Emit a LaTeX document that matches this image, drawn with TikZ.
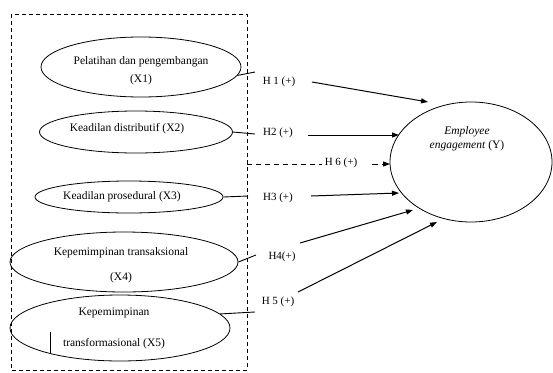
\documentclass[tikz,border=0pt]{standalone}
\usepackage{fontspec}
\setmainfont{Liberation Serif}
\usetikzlibrary{shapes.geometric,arrows.meta}
\begin{document}
\begin{tikzpicture}[x=1pt,y=-1pt,
  ell/.style={draw,ellipse,line width=0.8pt,inner sep=0pt},
  lbl/.style={font=\fontsize{11.5}{13.5}\selectfont,align=center,inner sep=0pt},
  hlbl/.style={font=\fontsize{11}{12}\selectfont,inner sep=0pt},
  stub/.style={line width=0.9pt},
  arr/.style={line width=1pt,-{Triangle[length=7pt,width=5pt]}},
  frame/.style={line width=0.8pt,dash pattern=on 4pt off 3pt}]
\useasboundingbox (0,0) rectangle (553,372);
% dashed frame
\coordinate (fa) at (11,14);
\coordinate (fb) at (247,370);
\draw[frame] (fa) rectangle (fb);
% exogenous ellipses
\node[ell,minimum width=200,minimum height=60] (x1) at (141,67) {};
\node[lbl] (t1) at (141,71) {Pelatihan dan pengembangan\\[4.5pt](X1)};
\node[ell,minimum width=193,minimum height=42] (x2) at (136,132) {};
\node[lbl] (t2) at (127,129) {Keadilan distributif (X2)};
\node[ell,minimum width=188,minimum height=32] (x3) at (129,197) {};
\node[lbl] (t3) at (122,197) {Keadilan prosedural (X3)};
\node[ell,minimum width=228,minimum height=60] (x4) at (124,262) {};
\node[lbl] (t4) at (121,265.5) {Kepemimpinan transaksional\\[11.5pt](X4)};
\node[ell,minimum width=220,minimum height=66] (x5) at (120,328) {};
\node[lbl] (t5) at (114,328.5) {Kepemimpinan\\[17.5pt]transformasional (X5)};
% small artifact line
\coordinate (va) at (50,332);
\coordinate (vb) at (50,353);
\draw[line width=0.6pt] (va) -- (vb);
% endogenous ellipse
\node[ell,minimum width=162,minimum height=120] (y) at (471,162) {};
\node[lbl] (ty) at (467,138.5) {\textit{Employee}\\\textit{engagement} (Y)};
% stubs from ellipses
\coordinate (s1) at (255,72);
\coordinate (s2) at (255,134);
\coordinate (s3) at (248,196);
\coordinate (s4) at (256,255);
\coordinate (s5) at (255,312);
\draw[stub] (x1.-5) -- (s1);
\draw[stub] (x2.east) -- (s2);
\draw[stub] (x3.east) -- (s3);
\draw[stub] (x4.east) -- (s4);
\draw[stub] (x5.8) -- (s5);
% labels
\node[hlbl] (h1) at (279,82) {H 1 (+)};
\node[hlbl] (h2) at (278,133) {H2 (+)};
\node[hlbl] (h6) at (341,163) {H 6 (+)};
\node[hlbl] (h3) at (278,198) {H3 (+)};
\node[hlbl] (h4) at (282,257) {H4(+)};
\node[hlbl] (h5) at (278,302) {H 5 (+)};
% arrows
\coordinate (a1s) at (312,82);  \coordinate (a1e) at (428,102);
\coordinate (a2s) at (308,135); \coordinate (a2e) at (399,135);
\coordinate (a3s) at (311,196); \coordinate (a3e) at (399,193);
\coordinate (a4s) at (300,243); \coordinate (a4e) at (413,210);
\coordinate (a5s) at (298,292); \coordinate (a5e) at (437,222);
\draw[arr] (a1s) -- (a1e);
\draw[arr] (a2s) -- (a2e);
\draw[arr] (a3s) -- (a3e);
\draw[arr] (a4s) -- (a4e);
\draw[arr] (a5s) -- (a5e);
% H6 dashed
\coordinate (d1) at (247,164);
\coordinate (d2) at (322,164);
\coordinate (d3) at (372,164);
\coordinate (d4) at (390,164);
\draw[line width=1pt,dash pattern=on 5pt off 4pt] (d1) -- (d2);
\draw[line width=1pt,dash pattern=on 6pt off 4pt,-{Triangle[length=7pt,width=5pt]}] (d3) -- (d4);
\end{tikzpicture}
\end{document}
